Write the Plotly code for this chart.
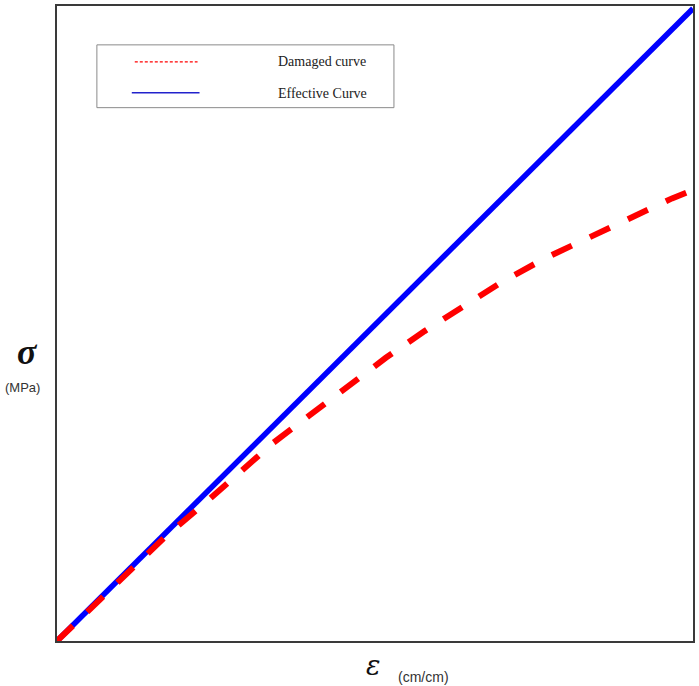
import plotly.graph_objects as go

# Strain (relative units, 0-100) and stress (relative units, 0-100)
strain_damaged = [0, 17.2, 22.9, 28.4, 34.0, 39.8, 46.6, 51.7, 57.8, 64.0, 70.2, 76.8, 90.0, 96.7, 100.0]
stress_damaged = [0, 16.6, 21.4, 26.4, 31.2, 35.6, 40.8, 44.6, 48.8, 52.7, 56.7, 60.3, 66.7, 69.7, 71.0]

strain_effective = [0, 45.9, 100.0]
stress_effective = [0, 45.7, 99.6]

legend_names = ["Damaged curve", "Effective Curve"]

fig = go.Figure()
fig.add_trace(go.Scatter(x=strain_effective, y=stress_effective, mode="lines",
                         line=dict(color="#0000ff", width=5.5), name=legend_names[1],
                         showlegend=False))
fig.add_trace(go.Scatter(x=strain_damaged, y=stress_damaged, mode="lines",
                         line=dict(color="#ff0000", width=6, dash="22px,20px"),
                         name=legend_names[0], showlegend=False))

# Manual legend (paper coordinates)
fig.add_shape(type="rect", xref="paper", yref="paper", x0=0.0627, x1=0.5298, y0=0.8399, y1=0.9388,
              line=dict(color="#8a8a8a", width=1), fillcolor="white")
fig.add_shape(type="line", xref="paper", yref="paper", x0=0.1223, x1=0.2210, y0=0.9121, y1=0.9121,
              line=dict(color="#ff0000", width=1.3, dash="3px,2px"))
fig.add_shape(type="line", xref="paper", yref="paper", x0=0.1176, x1=0.2241, y0=0.8634, y1=0.8634,
              line=dict(color="#2222cc", width=1.5))
fig.add_annotation(xref="paper", yref="paper", x=0.3448, y=0.9121, text=legend_names[0],
                   showarrow=False, xanchor="left", yanchor="middle",
                   font=dict(family="Liberation Serif", size=14, color="#222"))
fig.add_annotation(xref="paper", yref="paper", x=0.3448, y=0.8618, text=legend_names[1],
                   showarrow=False, xanchor="left", yanchor="middle",
                   font=dict(family="Liberation Serif", size=14, color="#222"))

# Axis titles
fig.add_annotation(xref="paper", yref="paper", x=-0.047, y=0.4545, text="<b><i>σ</i></b>",
                   showarrow=False, xanchor="center", yanchor="middle",
                   font=dict(family="Liberation Serif", size=36, color="#111"))
fig.add_annotation(xref="paper", yref="paper", x=-0.0846, y=0.3995, text="(MPa)",
                   showarrow=False, xanchor="left", yanchor="middle",
                   font=dict(family="Liberation Sans", size=13, color="#333"))
fig.add_annotation(xref="paper", yref="paper", x=0.497, y=-0.0385, text="<i>ε</i>",
                   showarrow=False, xanchor="center", yanchor="middle",
                   font=dict(family="DejaVu Serif", size=27, color="#111"))
fig.add_annotation(xref="paper", yref="paper", x=0.5330, y=-0.0565, text="(cm/cm)",
                   showarrow=False, xanchor="left", yanchor="middle",
                   font=dict(family="Liberation Sans", size=14, color="#333"))

axis_common = dict(showgrid=False, zeroline=False, showticklabels=False, ticks="",
                   showline=True, mirror=True, linecolor="#3a3a3a", linewidth=2)
fig.update_xaxes(range=[0, 100], **axis_common)
fig.update_yaxes(range=[0, 100], **axis_common)

fig.update_layout(width=699, height=686, margin=dict(l=57, r=4, t=4, b=45),
                  plot_bgcolor="white", paper_bgcolor="white", showlegend=False)

fig.write_html("out.html", config={"displayModeBar": False},
               post_script="document.body.style.margin='0';document.body.style.overflow='hidden';")
